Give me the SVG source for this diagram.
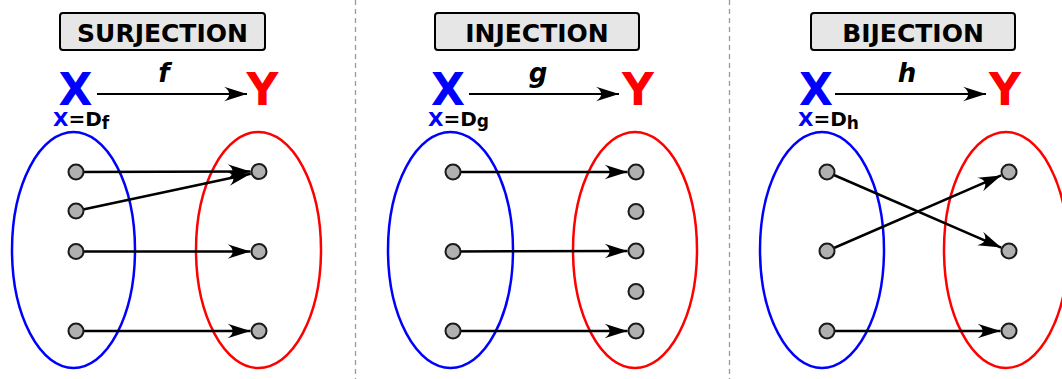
<svg xmlns="http://www.w3.org/2000/svg" width="1062" height="379" viewBox="0 0 1062 379">
<style>
.title{font-family:"DejaVu Sans",sans-serif;font-weight:bold;font-size:25px;text-anchor:middle;fill:#000}
.box{fill:#e6e6e6;stroke:#000;stroke-width:2}
.bigX{font-family:"DejaVu Sans",sans-serif;font-weight:bold;font-size:44px;text-anchor:middle;fill:#0000ff}
.bigY{font-family:"DejaVu Sans",sans-serif;font-weight:bold;font-size:44px;text-anchor:middle;fill:#ff0000}
.fn{font-family:"DejaVu Sans",sans-serif;font-weight:bold;font-style:italic;font-size:26px;text-anchor:middle;fill:#000}
.dom{font-family:"DejaVu Sans",sans-serif;font-weight:bold;font-size:20px;fill:#000}
.sub{font-size:17px}
.blue{fill:#0000ff}
.setX{fill:none;stroke:#0000ff;stroke-width:2.5}
.setY{fill:none;stroke:#ff0000;stroke-width:2.5}
.dot{fill:#b0b0b0;stroke:#1a1a1a;stroke-width:2}
.arr{fill:none;stroke:#000;stroke-width:2.5;marker-end:url(#ah)}
.top{fill:none;stroke:#000;stroke-width:2.2;marker-end:url(#ah)}
.sep{stroke:#999;stroke-width:1.3;stroke-dasharray:5,4}
</style>
<defs>
<marker id="ah" markerUnits="userSpaceOnUse" markerWidth="26" markerHeight="18" viewBox="-23 -8 25 16" refX="0" refY="0" orient="auto">
<path d="M0,0 L-22,-7 C-15.5,-2.5 -15.5,2.5 -22,7 Z" fill="#000"/>
</marker>
</defs>

<g id="separators">
<line class="sep" x1="355.5" y1="0" x2="355.5" y2="379"/>
<line class="sep" x1="729.5" y1="0" x2="729.5" y2="379"/>
</g>

<!-- SURJECTION -->
<g id="surj-title">
<rect class="box" x="60" y="13" width="205" height="37" rx="3"/>
<text class="title" x="162.5" y="42">SURJECTION</text>
</g>
<g id="surj-X"><text class="bigX" x="75.5" y="105">X</text></g>
<g id="surj-Y"><text class="bigY" x="262.5" y="105">Y</text></g>
<g id="surj-f"><text class="fn" x="164" y="82">f</text></g>
<g id="surj-dom"><text class="dom" x="53" y="126"><tspan class="blue">X</tspan>=D<tspan class="sub" dy="3">f</tspan></text></g>
<g id="surj-setX"><ellipse class="setX" cx="73.5" cy="250" rx="61.5" ry="118"/></g>
<g id="surj-setY"><ellipse class="setY" cx="258.5" cy="250" rx="62.5" ry="118"/></g>

<!-- INJECTION -->
<g id="inj-title">
<rect class="box" x="435" y="13" width="204" height="37" rx="3"/>
<text class="title" x="537" y="42">INJECTION</text>
</g>
<g id="inj-X"><text class="bigX" x="448" y="105">X</text></g>
<g id="inj-Y"><text class="bigY" x="638" y="105">Y</text></g>
<g id="inj-g"><text class="fn" x="538" y="82">g</text></g>
<g id="inj-dom"><text class="dom" x="428" y="126"><tspan class="blue">X</tspan>=D<tspan class="sub" dy="1">g</tspan></text></g>
<g id="inj-setX"><ellipse class="setX" cx="450.5" cy="250" rx="62.5" ry="118"/></g>
<g id="inj-setY"><ellipse class="setY" cx="635" cy="250" rx="62" ry="118"/></g>

<!-- BIJECTION -->
<g id="bij-title">
<rect class="box" x="811" y="13" width="204" height="37" rx="3"/>
<text class="title" x="913" y="42">BIJECTION</text>
</g>
<g id="bij-X"><text class="bigX" x="816" y="105">X</text></g>
<g id="bij-Y"><text class="bigY" x="1005" y="105">Y</text></g>
<g id="bij-h"><text class="fn" x="907" y="82">h</text></g>
<g id="bij-dom"><text class="dom" x="798" y="126"><tspan class="blue">X</tspan>=D<tspan class="sub" dy="3">h</tspan></text></g>
<g id="bij-setX"><ellipse class="setX" cx="822" cy="250" rx="62" ry="118"/></g>
<g id="bij-setY"><ellipse class="setY" cx="1006" cy="250" rx="62" ry="118"/></g>

<g id="connectors">
<line class="top" x1="97" y1="94" x2="247" y2="94"/>
<line class="top" x1="469" y1="94" x2="619" y2="94"/>
<line class="top" x1="835" y1="94" x2="986" y2="94"/>

<line class="arr" x1="76" y1="172" x2="250.5" y2="171.5"/>
<line class="arr" x1="76" y1="211" x2="250.7" y2="173.8"/>
<line class="arr" x1="76" y1="251.5" x2="250.5" y2="251.5"/>
<line class="arr" x1="76" y1="331" x2="250.5" y2="331"/>

<line class="arr" x1="453" y1="172" x2="627.5" y2="172"/>
<line class="arr" x1="453" y1="251.5" x2="627.5" y2="251"/>
<line class="arr" x1="453" y1="331" x2="627.5" y2="331"/>

<line class="arr" x1="827" y1="172" x2="1001.2" y2="247.6"/>
<line class="arr" x1="827" y1="251" x2="1001.2" y2="175.4"/>
<line class="arr" x1="827" y1="331" x2="1000.5" y2="331"/>
</g>

<g id="surj-dots">
<circle class="dot" cx="76" cy="172" r="7.5"/>
<circle class="dot" cx="76" cy="211" r="7.5"/>
<circle class="dot" cx="76" cy="251.5" r="7.5"/>
<circle class="dot" cx="76" cy="331" r="7.5"/>
<circle class="dot" cx="259" cy="171.5" r="7.5"/>
<circle class="dot" cx="259" cy="251.5" r="7.5"/>
<circle class="dot" cx="259" cy="331" r="7.5"/>
</g>
<g id="inj-dots">
<circle class="dot" cx="453" cy="172" r="7.5"/>
<circle class="dot" cx="453" cy="251.5" r="7.5"/>
<circle class="dot" cx="453" cy="331" r="7.5"/>
<circle class="dot" cx="636" cy="172" r="7.5"/>
<circle class="dot" cx="636" cy="211.5" r="7.5"/>
<circle class="dot" cx="636" cy="251" r="7.5"/>
<circle class="dot" cx="636" cy="291.5" r="7.5"/>
<circle class="dot" cx="636" cy="331" r="7.5"/>
</g>
<g id="bij-dots">
<circle class="dot" cx="827" cy="172" r="7.5"/>
<circle class="dot" cx="827" cy="251" r="7.5"/>
<circle class="dot" cx="827" cy="331" r="7.5"/>
<circle class="dot" cx="1009" cy="172" r="7.5"/>
<circle class="dot" cx="1009" cy="251" r="7.5"/>
<circle class="dot" cx="1009" cy="331" r="7.5"/>
</g>
</svg>
